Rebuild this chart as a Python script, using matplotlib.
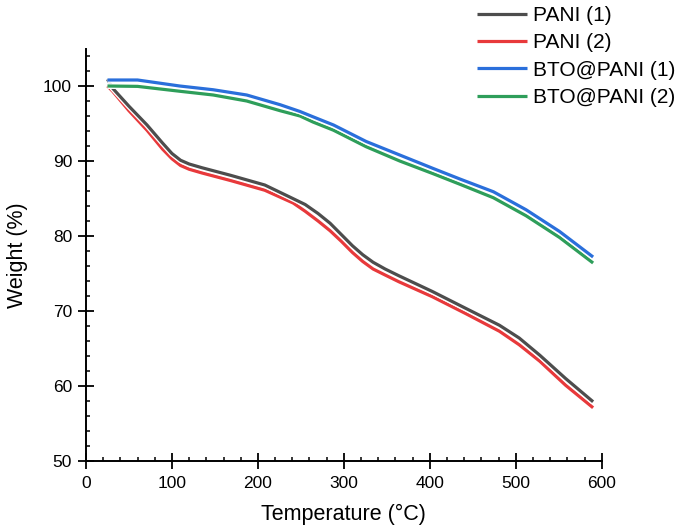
import matplotlib
matplotlib.use("Agg")
import matplotlib.pyplot as plt
import matplotlib.patheffects as pe
from matplotlib.ticker import MultipleLocator

plt.rcParams['font.family'] = ['Liberation Sans', 'DejaVu Sans']

# TGA curves
t_pani1 = [25, 31, 50, 71, 89, 100, 110, 120, 135, 168, 208, 237, 255, 270, 284, 297, 310, 322, 334, 348, 364, 403, 441, 481, 504, 528, 558, 590]
w_pani1 = [100.9, 99.7, 97.3, 94.8, 92.4, 91.0, 90.1, 89.6, 89.1, 88.1, 86.8, 85.2, 84.2, 83.0, 81.7, 80.2, 78.7, 77.5, 76.5, 75.6, 74.7, 72.6, 70.4, 68.1, 66.4, 64.1, 61.0, 57.9]

t_pani2 = [25, 31, 50, 71, 89, 100, 110, 120, 135, 168, 208, 241, 255, 270, 284, 297, 310, 322, 334, 348, 364, 403, 441, 481, 504, 528, 558, 590]
w_pani2 = [100.0, 99.3, 96.7, 94.1, 91.6, 90.3, 89.4, 88.9, 88.4, 87.4, 86.1, 84.4, 83.3, 82.0, 80.7, 79.3, 77.8, 76.6, 75.6, 74.8, 73.9, 71.9, 69.7, 67.3, 65.5, 63.3, 60.1, 57.1]

t_bto1 = [25, 60, 109, 148, 187, 226, 249, 264, 288, 326, 365, 404, 435, 474, 512, 551, 590]
w_bto1 = [100.8, 100.8, 100.0, 99.5, 98.8, 97.5, 96.6, 95.9, 94.8, 92.6, 90.8, 89.0, 87.6, 85.9, 83.5, 80.6, 77.2]

t_bto2 = [25, 60, 109, 148, 187, 226, 249, 264, 288, 326, 365, 404, 435, 474, 512, 551, 590]
w_bto2 = [100.0, 99.95, 99.3, 98.8, 98.0, 96.7, 96.0, 95.2, 94.1, 91.9, 90.0, 88.3, 86.9, 85.1, 82.7, 79.8, 76.4]

labels = ['PANI (1)', 'PANI (2)', 'BTO@PANI (1)', 'BTO@PANI (2)']
colors = ['#4d4d4d', '#e8393b', '#2a6fdb', '#2e9e5a']

fig = plt.figure(figsize=(6.85, 5.29), dpi=100)
ax = fig.add_axes([86/685, 1-461/529, (601.7-86)/685, (461-48.5)/529])

halo = [pe.Stroke(linewidth=4.2, foreground='white'), pe.Normal()]
series = [(t_pani2, w_pani2, 1), (t_pani1, w_pani1, 0), (t_bto2, w_bto2, 3), (t_bto1, w_bto1, 2)]
handles = [None]*4
for t, w, i in series:
    ln, = ax.plot(t, w, color=colors[i], lw=2.3, solid_capstyle='butt', solid_joinstyle='round',
                  path_effects=halo, label=labels[i])
    handles[i] = ln

ax.set_xlim(0, 600)
ax.set_ylim(50, 105)
ax.xaxis.set_major_locator(MultipleLocator(100))
ax.xaxis.set_minor_locator(MultipleLocator(20))
ax.yaxis.set_minor_locator(MultipleLocator(2))
ax.set_yticks([50, 60, 70, 80, 90, 100])

for s in ['top', 'right']:
    ax.spines[s].set_visible(False)
for s in ['left', 'bottom']:
    ax.spines[s].set_linewidth(1.4)

ax.tick_params(which='major', direction='inout', length=12, width=1.3, labelsize=12.5, color='black')
ax.tick_params(axis='x', which='major', pad=5)
ax.tick_params(axis='y', which='major', pad=4)
ax.tick_params(which='minor', direction='in', length=3.2, width=1.1, color='black')

ax.set_xlabel('Temperature (°C)', fontsize=15.5, labelpad=9)
ax.set_ylabel('Weight (%)', fontsize=15.5, labelpad=11)

leg = fig.legend(handles=handles, loc='upper left', bbox_to_anchor=(477/685, 1-6/529), frameon=False,
                 fontsize=15, handlelength=2.4, handletextpad=0.3, labelspacing=0.4,
                 borderpad=0, borderaxespad=0)
for h in leg.get_lines():
    h.set_linewidth(2.3)
    h.set_path_effects([])

fig.savefig('out.png', dpi=100)
